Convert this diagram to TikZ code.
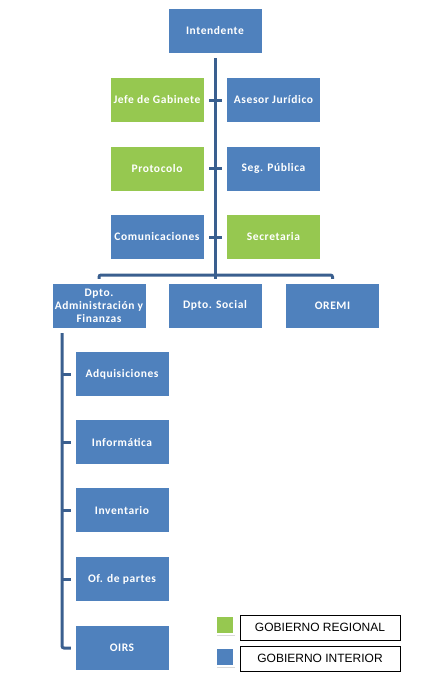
\documentclass[tikz,border=0pt]{standalone}
\usepackage{fontspec}
\setmainfont{Carlito}[LetterSpace=5]
\newfontfamily\legfont{Liberation Sans}
\usetikzlibrary{shadows}
\definecolor{boxblue}{HTML}{4F81BD}
\definecolor{boxgreen}{HTML}{96C850}
\definecolor{linkblue}{HTML}{3A5F8F}
\tikzset{
  orgbox/.style={rectangle, draw=white, line width=5pt, minimum width=98pt, minimum height=49pt,
    inner sep=2pt, align=center, text=white, font=\fontsize{11.5}{13}\selectfont\bfseries,
    drop shadow={opacity=0.25, shadow xshift=1pt, shadow yshift=-1.5pt}},
  gob/.style={orgbox, fill=boxblue},
  reg/.style={orgbox, fill=boxgreen},
  link/.style={draw=linkblue, line width=3pt, rounded corners=2pt},
  legsq/.style={rectangle, draw=white, line width=2.5pt, minimum width=18pt, minimum height=18pt,
    inner sep=0pt, drop shadow={opacity=0.3, shadow xshift=1pt, shadow yshift=-1.5pt}},
  legtext/.style={rectangle, draw=black, line width=0.8pt, minimum width=160pt, minimum height=25pt,
    font=\legfont\fontsize{12}{14}\selectfont}
}
\begin{document}
\begin{tikzpicture}[x=1pt,y=-1pt]
\useasboundingbox (0,0) rectangle (433,697);
% coordinates for connectors
\coordinate (barL) at (99,275);
\coordinate (barR) at (332.5,275);
\coordinate (barM) at (215,275);
\coordinate (s5) at (62,648);
% connectors (drawn first)
\draw[link] (215,31) -- (barM);
\draw[link] (99,305) -- (barL) -- (barR) -- (332.5,305);
\draw[link] (barM) -- (215,305);
\draw[link] (157,100) -- (273.5,100);
\draw[link] (157,168.5) -- (273.5,168.5);
\draw[link] (157,237) -- (273.5,237);
\draw[link] (62,305) -- (s5) -- (122,648);
\foreach \y in {374,442,510,579} \draw[link] (62,\y) -- (122,\y);
% boxes
\node[gob] (int) at (215,31) {Intendente};
\node[reg] (jefe) at (157,100) {Jefe de Gabinete};
\node[gob] (ases) at (273.5,100) {Asesor Jurídico};
\node[reg] (prot) at (157,168.5) {Protocolo};
\node[gob] (seg) at (273.5,168.5) {Seg. Pública};
\node[gob] (com) at (157,237) {Comunicaciones};
\node[reg] (sec) at (273.5,237) {Secretaria};
\node[gob] (adm) at (99,305.5) {Dpto.\\Administración y\\Finanzas};
\node[gob] (soc) at (215,305.5) {Dpto. Social};
\node[gob] (ore) at (332.5,305.5) {OREMI};
\node[gob] (adq) at (122,374) {Adquisiciones};
\node[gob] (inf) at (122,442) {Informática};
\node[gob] (inv) at (122,510) {Inventario};
\node[gob] (ofp) at (122,579) {Of. de partes};
\node[gob] (oirs) at (122,648) {OIRS};
% legend
\node[legsq, fill=boxgreen] (lg1) at (225,625) {};
\node[legsq, fill=boxblue] (lg2) at (225,657) {};
\node[legtext] (lt1) at (320,627.5) {GOBIERNO REGIONAL};
\node[legtext] (lt2) at (320,658.5) {GOBIERNO INTERIOR};
\end{tikzpicture}
\end{document}
